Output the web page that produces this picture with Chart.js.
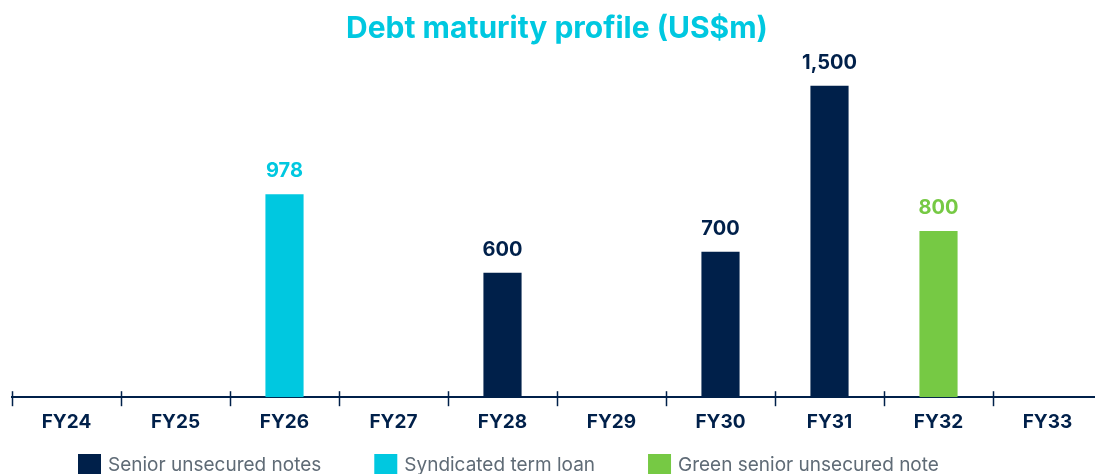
<!DOCTYPE html>
<html>

<head>
    <meta charset="utf-8">
    <title>Debt maturity profile</title>
    <script src="https://cdn.jsdelivr.net/npm/chart.js"></script>
    <style>
        body {
            margin: 0;
            overflow: hidden;
            background: #fff;
        }

        #wrap {
            position: absolute;
            left: 0;
            top: 0;
            width: 1110px;
            height: 474px;
        }
    </style>
</head>

<body>
    <div id="wrap"><canvas id="debtChart"></canvas></div>

    <script>
        // Financial years on the x axis
        const categories = ['FY24', 'FY25', 'FY26', 'FY27', 'FY28', 'FY29', 'FY30', 'FY31', 'FY32', 'FY33'];

        // Maturities per instrument (US$m)
        const seniorNotes = [null, null, null, null, 600, null, 700, 1500, null, null];
        const termLoan = [null, null, 978, null, null, null, null, null, null, null];
        const greenNote = [null, null, null, null, null, null, null, null, 800, null];

        const NAVY = '#00204a';
        const CYAN = '#00c8e0';
        const GREEN = '#76c944';
        const GREY = '#5f6b76';
        const FONT = 'Inter';

        // value above each bar, same colour as the bar
        const valueLabels = {
            id: 'valueLabels',
            afterDatasetsDraw(chart) {
                const ctx = chart.ctx;
                ctx.save();
                ctx.font = `bold 20px ${FONT}`;
                ctx.textAlign = 'center';
                ctx.textBaseline = 'middle';
                chart.data.datasets.forEach((ds, i) => {
                    chart.getDatasetMeta(i).data.forEach((bar, j) => {
                        const v = ds.data[j];
                        if (v == null) return;
                        ctx.fillStyle = ds.backgroundColor;
                        ctx.fillText(v.toLocaleString('en-US'), bar.x, bar.y - 23);
                    });
                });
                ctx.restore();
            }
        };

        // tick marks crossing the axis line at category boundaries
        const axisTicks = {
            id: 'axisTicks',
            afterDraw(chart) {
                const x = chart.scales.x;
                const ctx = chart.ctx;
                const n = categories.length;
                const step = (x.right - x.left) / n;
                ctx.save();
                ctx.strokeStyle = NAVY;
                ctx.lineWidth = 1.5;
                for (let i = 0; i <= n; i++) {
                    const px = Math.round(x.left + i * step) + 0.5;
                    ctx.beginPath();
                    ctx.moveTo(px, x.top - 6);
                    ctx.lineTo(px, x.top + 9);
                    ctx.stroke();
                }
                ctx.restore();
            }
        };

        // legend drawn by hand so the gaps between items can be wide
        const bottomLegend = {
            id: 'bottomLegend',
            afterDraw(chart) {
                const ctx = chart.ctx;
                ctx.save();
                ctx.font = `19px ${FONT}`;
                ctx.textBaseline = 'middle';
                let px = 78;
                const y = 464;
                chart.data.datasets.forEach(ds => {
                    ctx.fillStyle = ds.backgroundColor;
                    ctx.fillRect(px, y - 10, 23, 21);
                    ctx.fillStyle = GREY;
                    ctx.fillText(ds.label, px + 30, y + 1);
                    px += 30 + ctx.measureText(ds.label).width + 53;
                });
                ctx.restore();
            }
        };

        new Chart(document.getElementById('debtChart'), {
            type: 'bar',
            data: {
                labels: categories,
                datasets: [{
                    label: 'Senior unsecured notes',
                    data: seniorNotes,
                    backgroundColor: NAVY
                }, {
                    label: 'Syndicated term loan',
                    data: termLoan,
                    backgroundColor: CYAN
                }, {
                    label: 'Green senior unsecured note',
                    data: greenNote,
                    backgroundColor: GREEN
                }]
            },
            options: {
                responsive: true,
                maintainAspectRatio: false,
                animation: false,
                barPercentage: 0.7,
                categoryPercentage: 0.5,
                layout: {
                    padding: { left: 12, right: 8, top: 0, bottom: 34 }
                },
                plugins: {
                    legend: { display: false },
                    tooltip: { enabled: false },
                    title: {
                        display: true,
                        text: 'Debt maturity profile (US$m)',
                        color: CYAN,
                        font: { family: FONT, size: 30, weight: 'bold' },
                        padding: { top: 11, bottom: 18 }
                    }
                },
                scales: {
                    x: {
                        stacked: true,
                        offset: true,
                        grid: { display: false },
                        border: { display: true, color: NAVY, width: 2 },
                        ticks: {
                            color: NAVY,
                            font: { family: FONT, size: 19, weight: 'bold' },
                            padding: 6
                        }
                    },
                    y: {
                        stacked: true,
                        display: false,
                        min: 0,
                        max: 1600
                    }
                }
            },
            plugins: [valueLabels, axisTicks, bottomLegend]
        });
    </script>
</body>

</html>
